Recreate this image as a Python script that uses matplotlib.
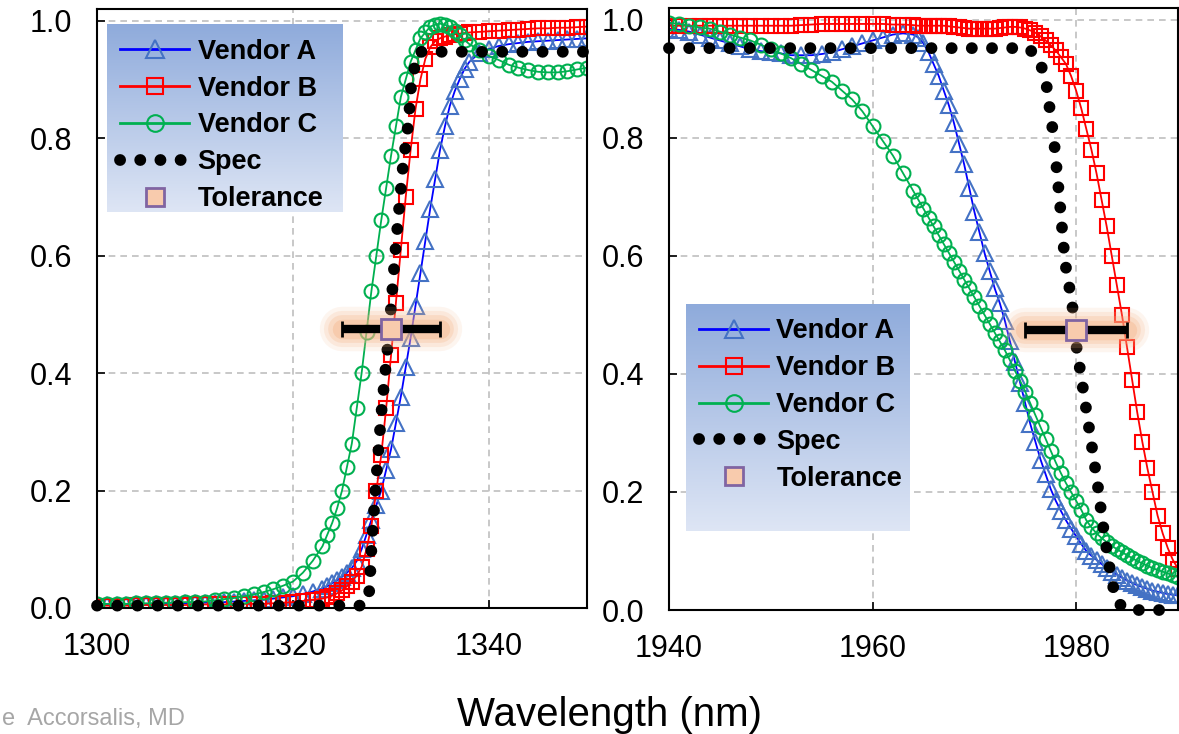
import numpy as np
import matplotlib
matplotlib.use("Agg")
import matplotlib.pyplot as plt
from matplotlib.lines import Line2D

plt.rcParams['font.family'] = ['Liberation Sans', 'DejaVu Sans']

# ---- left panel data (1300-1350 nm) ----
x_left = np.concatenate([np.arange(1300, 1323), np.arange(1323, 1338.5, 0.5), np.arange(1339, 1351)])

vendor_a_left = [0.005, 0.005, 0.005, 0.005, 0.006, 0.006, 0.006, 0.007, 0.007, 0.008, 0.008, 0.009,
                 0.009, 0.010, 0.011, 0.012, 0.013, 0.014, 0.016, 0.018, 0.020, 0.024, 0.028,
                 0.033, 0.037, 0.042, 0.047, 0.053, 0.060, 0.068, 0.080, 0.100, 0.125, 0.150, 0.175,
                 0.200, 0.235, 0.270, 0.315, 0.360, 0.410, 0.460, 0.515, 0.570, 0.625, 0.680, 0.730,
                 0.780, 0.820, 0.855, 0.880, 0.900, 0.918, 0.930,
                 0.945, 0.952, 0.957, 0.960, 0.962, 0.964, 0.965, 0.966, 0.967, 0.968, 0.969, 0.970]
vendor_b_left = [0.004, 0.004, 0.004, 0.004, 0.005, 0.005, 0.005, 0.005, 0.005, 0.005, 0.006, 0.006,
                 0.006, 0.006, 0.007, 0.007, 0.007, 0.007, 0.008, 0.009, 0.010, 0.012, 0.014,
                 0.016, 0.018, 0.021, 0.025, 0.030, 0.037, 0.045, 0.055, 0.070, 0.100, 0.140, 0.200,
                 0.260, 0.340, 0.430, 0.520, 0.610, 0.700, 0.780, 0.850, 0.900, 0.935, 0.955, 0.965,
                 0.970, 0.973, 0.975, 0.977, 0.978, 0.979, 0.980,
                 0.981, 0.982, 0.983, 0.984, 0.985, 0.986, 0.987, 0.987, 0.988, 0.988, 0.989, 0.990]
vendor_c_left = [0.007, 0.007, 0.007, 0.007, 0.008, 0.008, 0.008, 0.009, 0.009, 0.010, 0.010, 0.011,
                 0.013, 0.015, 0.017, 0.020, 0.023, 0.027, 0.032, 0.038, 0.045, 0.060, 0.080,
                 0.105, 0.125, 0.145, 0.170, 0.200, 0.240, 0.280, 0.340, 0.400, 0.470, 0.540, 0.600,
                 0.660, 0.715, 0.770, 0.820, 0.870, 0.900, 0.930, 0.950, 0.970, 0.980, 0.990, 0.993,
                 0.995, 0.993, 0.990, 0.983, 0.975, 0.967, 0.960,
                 0.950, 0.940, 0.933, 0.925, 0.920, 0.916, 0.913, 0.912, 0.912, 0.914, 0.917, 0.920]
spec_x_left = [1300, 1327.3, 1327.8, 1328.0, 1328.4, 1329.0, 1329.8, 1330.5, 1331.2, 1331.8, 1332.1, 1332.8, 1350]
spec_y_left = [0.004, 0.004, 0.03, 0.10, 0.20, 0.33, 0.47, 0.62, 0.75, 0.83, 0.90, 0.947, 0.947]

# ---- right panel data (1940-1990 nm) ----
x_right = np.concatenate([np.arange(1940, 1965), np.arange(1964.5, 1990.5, 0.5)])

vendor_a_right = [0.985, 0.983, 0.980, 0.975, 0.970, 0.965, 0.960, 0.955, 0.950, 0.947, 0.945, 0.943,
                  0.940, 0.940, 0.940, 0.942, 0.945, 0.950, 0.955, 0.960, 0.965, 0.970, 0.975, 0.977, 0.975,
                  0.970, 0.960, 0.945, 0.925, 0.905, 0.880, 0.855, 0.825, 0.790, 0.755, 0.715, 0.675,
                  0.640, 0.605, 0.575, 0.545, 0.520, 0.490, 0.455, 0.420, 0.385, 0.350, 0.315, 0.285,
                  0.255, 0.230, 0.205, 0.185, 0.168, 0.152, 0.138, 0.125, 0.112, 0.100, 0.092, 0.085,
                  0.078, 0.071, 0.065, 0.060, 0.055, 0.050, 0.046, 0.042, 0.039, 0.036, 0.033, 0.031,
                  0.029, 0.027, 0.026, 0.025]
vendor_b_right = [0.990, 0.990, 0.990, 0.990, 0.990, 0.990, 0.990, 0.990, 0.990, 0.990, 0.990, 0.990,
                  0.990, 0.991, 0.992, 0.993, 0.993, 0.993, 0.993, 0.993, 0.993, 0.993, 0.992, 0.992, 0.991,
                  0.990, 0.990, 0.990, 0.990, 0.990, 0.990, 0.989, 0.988, 0.987, 0.986, 0.985, 0.985,
                  0.985, 0.985, 0.985, 0.985, 0.986, 0.987, 0.988, 0.988, 0.987, 0.985, 0.982, 0.978,
                  0.972, 0.965, 0.957, 0.948, 0.937, 0.925, 0.905, 0.880, 0.850, 0.815, 0.780, 0.740,
                  0.695, 0.650, 0.600, 0.550, 0.500, 0.445, 0.390, 0.335, 0.285, 0.240, 0.200, 0.160,
                  0.130, 0.105, 0.085, 0.070]
vendor_c_right = [0.995, 0.993, 0.990, 0.987, 0.985, 0.980, 0.975, 0.970, 0.965, 0.958, 0.950, 0.943,
                  0.935, 0.925, 0.915, 0.905, 0.895, 0.880, 0.865, 0.845, 0.820, 0.795, 0.770, 0.740, 0.710,
                  0.695, 0.680, 0.665, 0.650, 0.635, 0.620, 0.605, 0.590, 0.575, 0.560, 0.545, 0.530,
                  0.515, 0.500, 0.485, 0.470, 0.455, 0.440, 0.423, 0.405, 0.388, 0.370, 0.350, 0.330,
                  0.310, 0.290, 0.270, 0.250, 0.232, 0.215, 0.200, 0.185, 0.170, 0.152, 0.140, 0.130,
                  0.122, 0.115, 0.109, 0.103, 0.098, 0.093, 0.088, 0.083, 0.079, 0.075, 0.071, 0.068,
                  0.065, 0.062, 0.059, 0.056]
spec_x_right = [1940, 1975.3, 1976.3, 1977, 1977.8, 1978.4, 1978.9, 1979.6, 1980.0, 1980.9, 1982.1,
                1982.6, 1983.2, 1983.9, 1985, 1990]
spec_y_right = [0.952, 0.952, 0.935, 0.90, 0.80, 0.69, 0.59, 0.52, 0.45, 0.35, 0.214, 0.148, 0.08,
                0.015, 0.0, 0.0]

# tolerance marker: centre wavelength, level, +/- nm
tol_center = [1330, 1980]
tol_level = 0.475
tol_halfwidth = 5

labels = ['Vendor A', 'Vendor B', 'Vendor C', 'Spec', 'Tolerance']

BLUE_LINE = '#0000FF'
BLUE_MARK = '#4472C4'
RED = '#FF0000'
GREEN = '#00B050'
PEACH = '#F8CBAD'
PURPLE = '#8064A2'
DOTS = (0, (0.01, 1.7))

fig = plt.figure(figsize=(11.79, 7.34), dpi=100)
ax1 = fig.add_axes([0.0823, 0.1717, 0.4156, 0.8161])
ax2 = fig.add_axes([0.5674, 0.1689, 0.4317, 0.8202])


def draw_panel(ax, x, a, b, c, sx, sy, tc, xlim, xticks, box, anchor):
    ax.plot(x, a, color=BLUE_LINE, lw=1.3, marker='^', ms=11, mfc='none', mec=BLUE_MARK, mew=1.5, zorder=2)
    ax.plot(x, b, color=RED, lw=1.3, marker='s', ms=10, mfc='none', mec=RED, mew=1.5, zorder=2.1)
    ax.plot(x, c, color=GREEN, lw=1.3, marker='o', ms=10, mfc='none', mec=GREEN, mew=1.5, zorder=2.2)
    ax.plot(sx, sy, color='black', lw=8.5, ls=DOTS, dash_capstyle='round', clip_on=False, zorder=3)

    # soft orange glow behind the tolerance bar
    for lw, al in [(32, 0.12), (26, 0.18), (20, 0.25), (14, 0.35)]:
        ax.plot([tc - tol_halfwidth, tc + tol_halfwidth], [tol_level, tol_level], color='#F4B183',
                lw=lw, alpha=al, solid_capstyle='round', zorder=6)
    ax.errorbar(tc, tol_level, xerr=tol_halfwidth, fmt='s', ms=14, mfc=PEACH, mec=PURPLE, mew=2,
                ecolor='black', elinewidth=6, capsize=6, capthick=5, zorder=7)

    # gradient legend background
    top = np.array([0.56, 0.67, 0.86])
    bot = np.array([0.87, 0.90, 0.96])
    t = np.linspace(0, 1, 256)[:, None, None]
    grad = top * (1 - t) + bot * t
    ax.imshow(grad, extent=box, aspect='auto', zorder=4)

    handles = [
        Line2D([], [], color=BLUE_LINE, lw=2, marker='^', ms=13, mfc='none', mec=BLUE_MARK, mew=1.5),
        Line2D([], [], color=RED, lw=2, marker='s', ms=12, mfc='none', mec=RED, mew=1.5),
        Line2D([], [], color=GREEN, lw=2, marker='o', ms=12, mfc='none', mec=GREEN, mew=1.5),
        Line2D([], [], color='black', lw=8.5, ls=DOTS, dash_capstyle='round'),
        Line2D([], [], ls='none', marker='s', ms=13, mfc=PEACH, mec=PURPLE, mew=2),
    ]
    leg = ax.legend(handles, labels, loc='upper left', bbox_to_anchor=anchor, frameon=False,
                    prop={'weight': 'bold', 'size': 19.5}, handlelength=2.55, handletextpad=0.3,
                    labelspacing=0.4, borderpad=0.5, borderaxespad=0, numpoints=1)
    leg.set_zorder(5)

    ax.set_xlim(*xlim)
    ax.set_ylim(0, 1.02)
    ax.set_xticks(xticks)
    ax.set_yticks([0.0, 0.2, 0.4, 0.6, 0.8, 1.0])
    ax.yaxis.set_major_formatter(matplotlib.ticker.FormatStrFormatter('%.1f'))
    ax.grid(True, color='#BFBFBF', ls=(0, (4, 3)), lw=1.2)
    ax.set_axisbelow(True)
    ax.tick_params(direction='in', length=6, width=1.2, labelsize=22)
    ax.tick_params(axis='x', pad=17)
    ax.tick_params(axis='y', pad=18)
    for s in ax.spines.values():
        s.set_linewidth(1.5)
        s.set_color('black')


draw_panel(ax1, x_left, vendor_a_left, vendor_b_left, vendor_c_left, spec_x_left, spec_y_left,
           tol_center[0], (1300, 1350), [1300, 1320, 1340], [1301, 1325, 0.674, 0.993], (0.02, 0.973))
draw_panel(ax2, x_right, vendor_a_right, vendor_b_right, vendor_c_right, spec_x_right, spec_y_right,
           tol_center[1], (1940, 1990), [1940, 1960, 1980], [1941.7, 1963.7, 0.134, 0.518], (0.033, 0.507))

fig.text(0.517, 0.026, 'Wavelength (nm)', ha='center', va='center', fontsize=29)
fig.text(0.002, 0.006, 'e  Accorsalis, MD', ha='left', va='bottom', fontsize=17, color='#A6A6A6')

fig.savefig('out.png', dpi=100)
